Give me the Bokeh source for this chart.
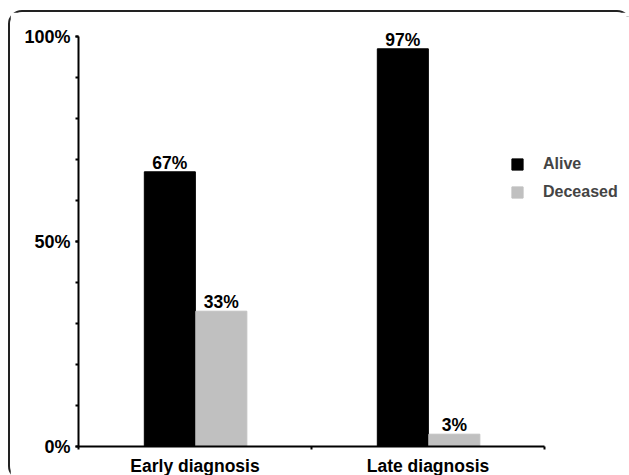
import numpy as np
from bokeh.plotting import figure
from bokeh.models import Range1d, FixedTicker, Legend, LegendItem
from bokeh.embed import file_html
from bokeh.resources import INLINE
from bokeh.core.properties import value

# ---- data ----
categories = ["Early diagnosis", "Late diagnosis"]
alive = [67, 97]
deceased = [33, 3]
series_names = ["Alive", "Deceased"]
y_ticks = [0, 50, 100]
y_tick_labels = ["0%", "50%", "100%"]
y_minor = [0, 10, 20, 30, 40, 50, 60, 70, 80, 90, 100]

FONT = "Liberation Sans"
BLACK = "#000000"
GRAY = "#c0c0c0"

n = len(categories)
centers = np.arange(n) + 0.5
bw = 0.219
x_alive = centers - 0.108
x_dec = centers + 0.113

FRAME_W = 551          # frame extends under the legend; axis line limited by bounds
CAT_PX = 233           # pixels per category
AXIS_H = 410           # pixel height of the 0..100 axis
HEADROOM = 20          # extra frame space above 100% so labels are not clipped
p = figure(
    frame_width=FRAME_W, frame_height=AXIS_H + HEADROOM,
    x_range=Range1d(0, FRAME_W / CAT_PX),
    y_range=Range1d(0, 100 * (AXIS_H + HEADROOM) / AXIS_H),
    output_backend="svg", toolbar_location=None,
    min_border_left=68, min_border_top=4, min_border_right=0, min_border_bottom=25,
)
p.styles = {"border": "2px solid #222222", "border-radius": "14px",
            "margin-left": "8px", "margin-top": "10px"}
p.xgrid.visible = False
p.ygrid.visible = False
p.outline_line_color = None
p.background_fill_color = "white"
p.border_fill_color = "white"

r_alive = p.vbar(x=x_alive, top=alive, width=bw, fill_color=BLACK, line_color=BLACK)
r_dec = p.vbar(x=x_dec, top=deceased, width=bw, fill_color=GRAY, line_color=GRAY)

for xs, vals in ((x_alive, alive), (x_dec, deceased)):
    p.text(x=xs, y=vals, text=[f"{v}%" for v in vals], text_align="center",
           text_baseline="alphabetic", y_offset=-9, text_font=value(FONT),
           text_font_style="bold", text_font_size="17.5px", text_color=BLACK)

# y axis
ya = p.yaxis[0]
ya.ticker = FixedTicker(ticks=y_ticks, minor_ticks=y_minor)
ya.major_label_overrides = {t: l for t, l in zip(y_ticks, y_tick_labels)}
ya.bounds = (0, 100)
# x axis
xa = p.xaxis[0]
xa.ticker = FixedTicker(ticks=list(centers), minor_ticks=list(range(n + 1)))
xa.major_label_overrides = {float(c): cat for c, cat in zip(centers, categories)}
xa.bounds = (0, n)
xa.major_tick_line_color = None
xa.major_tick_out = 0
xa.major_tick_in = 0
xa.major_label_standoff = 6
ya.major_label_standoff = 5

for ax in (xa, ya):
    ax.axis_line_width = 2
    ax.axis_line_color = BLACK
    ax.minor_tick_line_width = 2
    ax.minor_tick_line_color = BLACK
    ax.minor_tick_in = 0
    ax.minor_tick_out = 3
    ax.major_label_text_font = FONT
    ax.major_label_text_font_style = "bold"
    ax.major_label_text_font_size = "18px"
    ax.major_label_text_color = BLACK
xa.major_label_text_font_size = "17.5px"
ya.major_tick_line_width = 2
ya.major_tick_line_color = BLACK
ya.major_tick_in = 0
ya.major_tick_out = 3

legend = Legend(
    items=[LegendItem(label=series_names[0], renderers=[r_alive]),
           LegendItem(label=series_names[1], renderers=[r_dec])],
    location=(432, 244), orientation="vertical",
    glyph_width=14, glyph_height=14, label_standoff=19, label_height=20, spacing=8,
    label_text_font=FONT, label_text_font_style="bold", label_text_font_size="16px",
    padding=0, margin=0, border_line_color=None, background_fill_alpha=0,
)
p.add_layout(legend, "center")

open("out.html", "w").write(file_html(p, INLINE))
